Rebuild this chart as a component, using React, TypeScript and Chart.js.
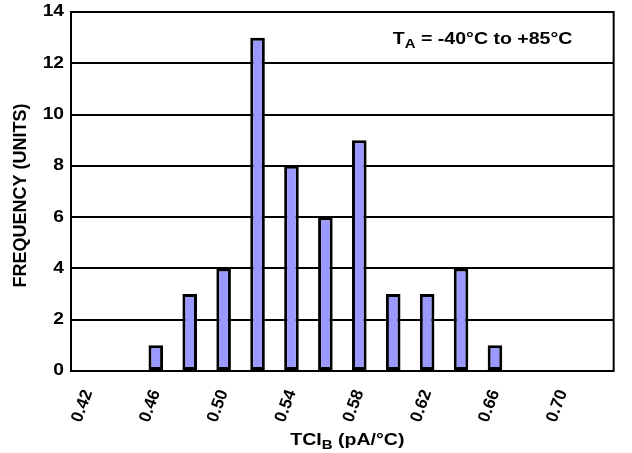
import React, { useEffect, useRef } from "react";
import { Chart, registerables } from "chart.js";

Chart.register(...registerables);

const categories = ["0.42", "0.44", "0.46", "0.48", "0.50", "0.52", "0.54", "0.56", "0.58", "0.60", "0.62", "0.64", "0.66", "0.68", "0.70", "0.72"];
const frequency = [0, 0, 1, 3, 4, 13, 8, 6, 9, 3, 3, 4, 1, 0, 0, 0];
const labeledTicks = ["0.42", "0.46", "0.50", "0.54", "0.58", "0.62", "0.66", "0.70"];
const yMin = 0;
const yMax = 14;
const yStep = 2;

const FONT = "'Liberation Sans', Arial, sans-serif";
const STRETCH = 1.15;

function drawParts(ctx: any, parts: { t: string; f: string; dy: number }[], x: number, y: number, align: "left" | "center") {
  ctx.save();
  ctx.textAlign = "left";
  ctx.textBaseline = "alphabetic";
  let total = 0;
  for (const p of parts) {
    ctx.font = p.f;
    total += ctx.measureText(p.t).width;
  }
  const startX = align === "center" ? x - (total * STRETCH) / 2 : x;
  ctx.translate(startX, y);
  ctx.scale(STRETCH, 1);
  let cx = 0;
  for (const p of parts) {
    ctx.font = p.f;
    ctx.fillText(p.t, cx, p.dy);
    cx += ctx.measureText(p.t).width;
  }
  ctx.restore();
}

const overlayPlugin = {
  id: "overlay",
  afterDraw(chart: any) {
    const { ctx, chartArea } = chart;
    const { left, top, right, bottom } = chartArea;
    ctx.save();
    ctx.strokeStyle = "#000";
    ctx.lineWidth = 2;
    ctx.strokeRect(left, top, right - left, bottom - top);
    ctx.fillStyle = "#000";

    // y tick labels
    const ys = chart.scales.y;
    ys.ticks.forEach((t: any) => {
      const py = ys.getPixelForValue(t.value);
      ctx.save();
      ctx.font = `bold 16px ${FONT}`;
      ctx.textAlign = "right";
      ctx.textBaseline = "middle";
      ctx.translate(left - 7, py);
      ctx.scale(1.2, 1);
      ctx.fillText(String(t.value), 0, 0);
      ctx.restore();
    });

    // annotation
    drawParts(
      ctx,
      [
        { t: "T", f: `bold 17px ${FONT}`, dy: 0 },
        { t: "A", f: `bold 13px ${FONT}`, dy: 4 },
        { t: " = -40°C to +85°C", f: `bold 17px ${FONT}`, dy: 0 },
      ],
      left + (right - left) * 0.593,
      top + 32,
      "left"
    );

    // x title
    drawParts(
      ctx,
      [
        { t: "TCI", f: `bold 17px ${FONT}`, dy: 0 },
        { t: "B", f: `bold 13px ${FONT}`, dy: 4 },
        { t: " (pA/°C)", f: `bold 17px ${FONT}`, dy: 0 },
      ],
      (left + right) / 2 + 5,
      bottom + 74,
      "center"
    );

    // y title
    ctx.save();
    ctx.translate(21, (top + bottom) / 2 + 4);
    ctx.rotate(-Math.PI / 2);
    ctx.textAlign = "center";
    ctx.textBaseline = "middle";
    ctx.font = `bold 18px ${FONT}`;
    ctx.fillText("FREQUENCY (UNITS)", 0, 0);
    ctx.restore();

    ctx.restore();
  },
};

export default function App() {
  const ref = useRef<HTMLCanvasElement>(null);
  useEffect(() => {
    document.body.style.margin = "0";
    if (!ref.current) return;
    const chart = new Chart(ref.current, {
      type: "bar",
      data: {
        labels: categories,
        datasets: [
          {
            data: frequency,
            backgroundColor: "#9999FF",
            borderColor: "#000000",
            borderWidth: 3,
            borderSkipped: false,
            categoryPercentage: 1,
            barPercentage: 0.43,
          },
        ],
      },
      options: {
        animation: false,
        responsive: false,
        maintainAspectRatio: false,
        layout: { padding: { top: 12, right: 4, left: 0, bottom: 0 } },
        plugins: { legend: { display: false }, tooltip: { enabled: false } },
        scales: {
          x: {
            grid: { display: false, drawTicks: false },
            border: { display: false },
            ticks: {
              autoSkip: false,
              minRotation: 70,
              maxRotation: 70,
              padding: 16,
              color: "#000",
              font: { family: FONT, size: 17, weight: "bold" },
              callback: (_v: any, i: number) => (labeledTicks.includes(categories[i]) ? categories[i] : ""),
            },
            afterFit: (s: any) => {
              s.height = 82;
            },
          },
          y: {
            min: yMin,
            max: yMax,
            grid: { color: "#000", lineWidth: 2, drawTicks: false },
            border: { display: false },
            ticks: {
              stepSize: yStep,
              display: false,
            },
            afterFit: (s: any) => {
              s.width = 71;
            },
          },
        },
      },
      plugins: [overlayPlugin],
    });
    return () => chart.destroy();
  }, []);
  return <canvas ref={ref} width={632} height={453} style={{ display: "block" }} />;
}
